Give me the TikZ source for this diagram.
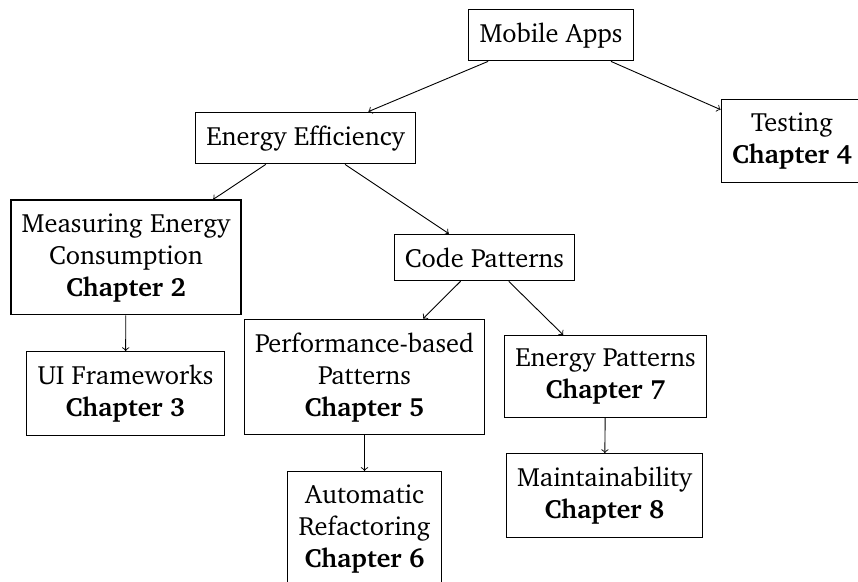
\documentclass[tikz,border=0pt]{standalone}
\usepackage[T1]{fontenc}
\usepackage{charter}
\begin{document}
\begin{tikzpicture}[x=0.5pt,y=-0.5pt,
  box/.style={draw,line width=0.65pt,align=center,inner xsep=5.4pt,inner ysep=6.6pt,font=\fontsize{13.2}{16}\selectfont},
  link/.style={->,line width=0.45pt}]
\useasboundingbox (0,0) rectangle (858,582);
\node[box] (mobile) at (551,35) {Mobile Apps};
\node[box] (energy) at (305.5,138) {Energy Efficiency};
\node[box] (testing) at (792,141) {Testing\\\textbf{Chapter 4}};
\node[box] (measuring) at (126,257.5) {Measuring Energy\\Consumption\\\textbf{Chapter 2}};
\node[box] (code) at (484.5,257.5) {Code Patterns};
\node[box] (ui) at (125.5,393.5) {UI Frameworks\\\textbf{Chapter 3}};
\node[box] (perf) at (364.5,377) {Performance-based\\Patterns\\\textbf{Chapter 5}};
\node[box] (energyp) at (605.5,376.5) {Energy Patterns\\\textbf{Chapter 7}};
\node[box] (auto) at (364.5,529) {Automatic\\Refactoring\\\textbf{Chapter 6}};
\node[box] (maint) at (604.5,495.5) {Maintainability\\\textbf{Chapter 8}};
\draw[link] (mobile) -- (energy);
\draw[link] (mobile) -- (testing);
\draw[link] (energy) -- (measuring);
\draw[link] (energy) -- (code);
\draw[link] (measuring) -- (ui);
\draw[link] (code) -- (perf);
\draw[link] (code) -- (energyp);
\draw[link] (perf) -- (auto);
\draw[link] (energyp) -- (maint);
\end{tikzpicture}
\end{document}
